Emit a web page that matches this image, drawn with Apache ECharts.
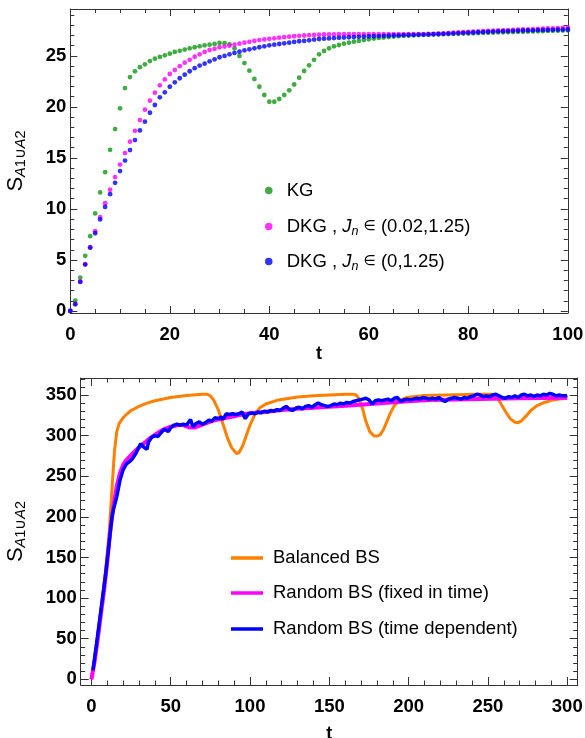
<!DOCTYPE html>
<html><head><meta charset="utf-8">
<script src="https://cdn.jsdelivr.net/npm/echarts@6/dist/echarts.min.js"></script>
<style>html,body{margin:0;padding:0;background:#fff}#c{width:585px;height:738px}</style>
</head><body><div id="c"></div>
<script>
// ---------- top panel data (t = 0..100) ----------
const topT = [0,1,2,3,4,5,6,7,8,9,10,11,12,13,14,15,16,17,18,19,20,21,22,23,24,25,26,27,28,29,30,31,32,33,34,35,36,37,38,39,40,41,42,43,44,45,46,47,48,49,50,51,52,53,54,55,56,57,58,59,60,61,62,63,64,65,66,67,68,69,70,71,72,73,74,75,76,77,78,79,80,81,82,83,84,85,86,87,88,89,90,91,92,93,94,95,96,97,98,99,100];
const kg = [0,1.02,3.27,5.4,7.33,9.56,11.62,13.6,15.8,17.83,19.86,21.85,22.93,23.49,23.9,24.18,24.5,24.73,24.9,25.06,25.22,25.39,25.5,25.62,25.75,25.85,25.94,26.04,26.1,26.17,26.27,26.25,26.14,25.75,25.0,24.3,23.55,22.74,21.98,21.17,20.51,20.51,20.78,21.17,21.63,22.2,22.87,23.52,24.08,24.62,25.16,25.49,25.75,25.94,26.07,26.2,26.3,26.4,26.47,26.56,26.63,26.7,26.76,26.8,26.85,26.9,26.94,26.97,27.0,27.02,27.04,27.06,27.08,27.1,27.11,27.13,27.14,27.16,27.17,27.19,27.2,27.22,27.24,27.25,27.27,27.28,27.3,27.31,27.33,27.34,27.36,27.37,27.39,27.4,27.42,27.43,27.45,27.46,27.47,27.49,27.5];
const dkg002 = [0,0.7,2.9,4.6,6.25,7.82,9.2,10.57,11.88,13.12,14.35,15.48,16.59,17.66,18.71,19.73,20.61,21.4,22.12,22.7,23.23,23.62,24.0,24.34,24.62,24.92,25.16,25.39,25.58,25.7,25.85,25.92,26.0,26.1,26.2,26.3,26.38,26.47,26.55,26.62,26.68,26.73,26.79,26.84,26.89,26.93,26.97,27.0,27.03,27.06,27.08,27.1,27.11,27.12,27.13,27.13,27.13,27.13,27.14,27.14,27.14,27.14,27.14,27.14,27.14,27.14,27.14,27.14,27.14,27.14,27.14,27.14,27.15,27.17,27.19,27.21,27.24,27.27,27.3,27.32,27.35,27.37,27.4,27.42,27.45,27.47,27.49,27.51,27.53,27.55,27.57,27.59,27.61,27.63,27.65,27.67,27.69,27.71,27.73,27.75,27.77];
const dkg0 = [0,0.66,2.85,4.55,6.2,7.62,8.97,10.2,11.45,12.56,13.71,14.74,15.77,16.75,17.7,18.55,19.43,20.19,20.94,21.43,21.98,22.41,22.81,23.16,23.5,23.8,24.05,24.24,24.47,24.67,24.87,25.0,25.16,25.29,25.42,25.55,25.65,25.75,25.85,25.94,26.04,26.1,26.17,26.24,26.3,26.37,26.44,26.47,26.53,26.6,26.66,26.69,26.72,26.75,26.78,26.8,26.83,26.85,26.87,26.89,26.91,26.93,26.95,26.97,26.99,27.0,27.02,27.03,27.05,27.06,27.08,27.09,27.11,27.13,27.15,27.17,27.19,27.22,27.24,27.26,27.28,27.3,27.32,27.35,27.37,27.39,27.41,27.42,27.44,27.46,27.47,27.49,27.5,27.51,27.53,27.54,27.55,27.56,27.57,27.58,27.59];
const topXTicks = [0,20,40,60,80,100];
const topXMinor = [5,10,15,25,30,35,45,50,55,65,70,75,85,90,95];
const topYTicks = [0,5,10,15,20,25];
const topYMinor = [1,2,3,4,6,7,8,9,11,12,13,14,16,17,18,19,21,22,23,24,26,27,28,29];

// ---------- bottom panel data [t, S] ----------
const balancedBS = [[0,0],[3,40],[6,85],[9,135],[11,175],[13,235],[14.5,280],[16,305],[17.5,315],[20,322],[22,326],[25,331],[30,336],[35,340],[40,343],[50,347],[60,349.5],[70,351],[73,351],[75,349],[77,344],[80,332],[83,314],[86,296],[88.5,285],[91.5,278],[93,279],[95.5,288],[98,302],[100,313],[103,326],[106,334],[110,339],[118,344],[130,347.5],[140,349],[150,350],[160,351],[165,351],[167,350],[169,345],[171,333],[173,318],[175.5,305],[178,300],[180,299.5],[182,301],[184,307],[186,316],[188.5,328],[191,337],[194,343],[199,347],[210,349.5],[230,350.5],[245,351],[253,351],[255.5,348],[258,340],[261,330],[264,321],[267,316.5],[269,316],[271,318],[274,324],[277,331],[281,337],[285,340.5],[290,343.5],[295,345],[300,346]];
const randomFixed = [[0,0],[2,22],[4,50],[6,80],[8,110],[10,145],[12,185],[14,215],[16,238],[18,254],[20,264],[22,270],[25,276],[28,282],[31,287],[34,292],[37,297],[40,301],[43,305],[46,308],[50,311],[55,313],[58,313],[62,310],[65,310],[68,312],[72,315],[76,318],[80,320],[85,322],[90,324],[95,326],[100,327.5],[110,329.5],[120,331.5],[130,333],[140,334.5],[150,335.6],[165,337.5],[180,339.7],[195,341.7],[213,343.8],[230,344.5],[245,345.2],[270,346],[300,346.7]];
const randomTime = [[1,11],[3,40],[5,70],[7,100],[9,130],[11,165],[13,200],[14,210],[16,225],[18,245],[20,258],[22,265],[24,268],[26,272],[28,278],[30,286],[31,290],[33,286],[35,283],[36,292],[38,298],[40,300],[42,299],[44,304],[46,308],[47,309],[48.5,305],[50,310],[52,313],[54,314],[56,313],[58,314],[60,313],[62.5,320],[64,311],[66,315],[68,317],[70,314],[72,316],[74,319],[76,318],[78,322],[80,321],[82,323],[83,320],[85,327],[87,326],[89,327],[91,326],[93,327],[95,329],[97,321],[99,327],[101,328],[103,327],[105,329],[107,328],[109,330],[111,329],[113,331],[115,330],[117,332],[119,331],[121,334],[123,336],[125,332],[127,331],[129,334],[131,335],[133,333],[135,336],[137,337],[139,335],[141,338],[143,340],[145,338],[147,337],[149,336],[151,337],[153,339],[155,338],[157,340],[159,339],[161,341],[163,340],[165,342],[167,343],[169,344],[171,345],[173,346],[175,344],[177,339],[179,343],[181,344],[183,343],[185,344],[187,345],[189,343],[191,346],[193,347],[195,342],[197,344],[199,345],[201,344],[203,345],[205,346],[207,345],[209,347],[211,346],[213,345],[215,346],[217,345],[219,347],[221,344],[223,342],[225,345],[227,346],[229,347],[231,346],[233,345],[235,347],[237,346],[239,348],[241,349],[243,351],[245,350],[247,348],[249,349],[251,348],[253,350],[255,351],[257,349],[259,347],[261,346],[263,348],[265,347],[267,349],[269,347],[271,350],[273,351],[275,349],[277,350],[279,348],[281,350],[283,349],[285,351],[287,350],[289,352],[291,351],[293,349],[295,350],[297,349],[299,349],[300,349.5]];
const botXTicks = [0,50,100,150,200,250,300];
const botXMinor = [10,20,30,40,60,70,80,90,110,120,130,140,160,170,180,190,210,220,230,240,260,270,280,290];
const botYTicks = [0,50,100,150,200,250,300,350];
const botYMinor = [10,20,30,40,60,70,80,90,110,120,130,140,160,170,180,190,210,220,230,240,260,270,280,290,310,320,330,340,360,370];

const FRAME = '#333';
const tickFont = {color:'#000', fontWeight:'bold', fontFamily:'Liberation Sans, Arial, sans-serif', fontSize:18.5};
const yName = '{s|S}{a|A}{b|1∪}{a|A}{b|2}';
const yNameStyle = {color:'#000', fontFamily:'Liberation Sans, Arial, sans-serif',
  rich:{s:{fontSize:22, fontFamily:'Liberation Sans', color:'#000'},
        a:{fontSize:14.5, fontStyle:'italic', fontFamily:'Liberation Sans', color:'#000', padding:[10,0,0,0]},
        b:{fontSize:14.5, fontFamily:'Liberation Sans', color:'#000', padding:[10,0,0,0]}}};

// Four overlapping grids per panel: one axis per side each, so frame ticks can sit on every side.
function panel(g0, rect, xr, yr, xMaj, xMin, yMaj, yMin, majLen, minLen, xNameGap, yNameGap, labMarginX, labMarginY){
  const grids = [0,1,2,3].map(()=>Object.assign({outerBoundsMode:'none', containLabel:false}, rect));
  const line = {show:true, onZero:false, lineStyle:{color:FRAME, width:1}};
  const noLine = {show:false, onZero:false};
  const tk = (vals,len)=>({show:true, inside:true, length:len, customValues:vals, lineStyle:{color:FRAME, width:1}});
  const bx = (gi, o)=>Object.assign({type:'value', gridIndex:g0+gi, min:xr[0], max:xr[1], splitLine:{show:false}, axisPointer:{show:false}, axisLabel:{show:false}}, o);
  const by = (gi, o)=>Object.assign({type:'value', gridIndex:g0+gi, min:yr[0], max:yr[1], splitLine:{show:false}, axisPointer:{show:false}, axisLabel:{show:false}}, o);
  const xs = [
    bx(0, {position:'bottom', axisLine:line, axisTick:tk(xMaj,majLen),
      axisLabel:Object.assign({show:true, customValues:xMaj, margin:labMarginX}, tickFont),
      name:'t', nameLocation:'middle', nameGap:xNameGap, nameTextStyle:{color:'#000', fontWeight:'bold', fontSize:18, fontFamily:'Liberation Sans'}}),
    bx(1, {position:'top', axisLine:line, axisTick:tk(xMaj,majLen)}),
    bx(2, {position:'bottom', axisLine:noLine, axisTick:tk(xMin,minLen)}),
    bx(3, {position:'top', axisLine:noLine, axisTick:tk(xMin,minLen)})
  ];
  const ys = [
    by(0, {position:'left', axisLine:line, axisTick:tk(yMaj,majLen),
      axisLabel:Object.assign({show:true, customValues:yMaj, margin:labMarginY}, tickFont),
      name:yName, nameLocation:'middle', nameRotate:90, nameGap:yNameGap, nameTextStyle:yNameStyle}),
    by(1, {position:'right', axisLine:line, axisTick:tk(yMaj,majLen)}),
    by(2, {position:'left', axisLine:noLine, axisTick:tk(yMin,minLen)}),
    by(3, {position:'right', axisLine:noLine, axisTick:tk(yMin,minLen)})
  ];
  return {grids, xs, ys};
}

const A = panel(0, {left:70.3, top:9, width:497.5, height:304}, [0,100], [-0.2,29.6], topXTicks, topXMinor, topYTicks, topYMinor, 7, 4, 31, 42, 12, 4);
const B = panel(4, {left:80.7, top:378, width:497, height:307}, [-6.75,306.6], [-7,371], botXTicks, botXMinor, botYTicks, botYMinor, 8, 4.5, 40, 52, 12, 4);

const GREEN = '#109610', MAG = '#ff00ff', BLUE = '#0000ff', ORANGE = '#ff8000';
const N1 = 'KG', N2 = 'DKG , J_n ∈ (0.02,1.25)', N3 = 'DKG , J_n ∈ (0,1.25)';
const M1 = 'Balanced BS', M2 = 'Random BS (fixed in time)', M3 = 'Random BS (time dependent)';
const legendLabels = {};
legendLabels[N1] = 'KG';
legendLabels[N2] = 'DKG , {i|J}{s|n} {e|∈} (0.02,1.25)';
legendLabels[N3] = 'DKG , {i|J}{s|n} {e|∈} (0,1.25)';
const legText = {color:'#000', fontSize:18.5, fontFamily:'Liberation Sans, Arial, sans-serif', lineHeight:22,
  rich:{i:{fontStyle:'italic', fontSize:18.5, fontFamily:'Liberation Sans', color:'#000', lineHeight:22},
        e:{fontSize:14, fontFamily:'DejaVu Sans', color:'#000', lineHeight:22},
        s:{fontStyle:'italic', fontSize:12.5, fontFamily:'Liberation Sans', color:'#000', padding:[10,0,0,0]}}};

function topLeg(name, top){
  return {data:[{name:name, icon:'circle'}], left:260, top:top, orient:'vertical', itemWidth:26, itemHeight:7.5,
    selectedMode:false, formatter:(n)=>legendLabels[n] || n, textStyle:legText};
}
function botLeg(name, top){
  return {data:[{name:name, icon:'rect'}], left:226, top:top, orient:'vertical', itemWidth:32, itemHeight:3.5,
    selectedMode:false, textStyle:Object.assign({}, legText, {padding:[0,0,0,5]})};
}

const scat = (name, data, color)=>({name, type:'scatter', xAxisIndex:0, yAxisIndex:0,
  data: topT.map((t,i)=>[t, data[i]]), symbol:'circle', symbolSize:4.8, itemStyle:{color}, silent:true, clip:false});
const ln = (name, data, color, w)=>({name, type:'line', xAxisIndex:4, yAxisIndex:4, data, showSymbol:false,
  symbol:'none', lineStyle:{color, width:w}, itemStyle:{color}, silent:true, smooth:false});

const chart = echarts.init(document.getElementById('c'), null, {renderer:'canvas'});
chart.setOption({
  animation:false,
  backgroundColor:'#fff',
  grid: A.grids.concat(B.grids),
  xAxis: A.xs.concat(B.xs),
  yAxis: A.ys.concat(B.ys),
  legend:[topLeg(N1, 174.5), topLeg(N2, 210.5), topLeg(N3, 245.5),
          botLeg(M1, 542), botLeg(M2, 577), botLeg(M3, 613)],
  series:[
    scat(N1, kg, GREEN), scat(N2, dkg002, MAG), scat(N3, dkg0, BLUE),
    ln(M1, balancedBS, ORANGE, 3), ln(M2, randomFixed, MAG, 4), ln(M3, randomTime, BLUE, 3.5)
  ]
});
</script></body></html>
